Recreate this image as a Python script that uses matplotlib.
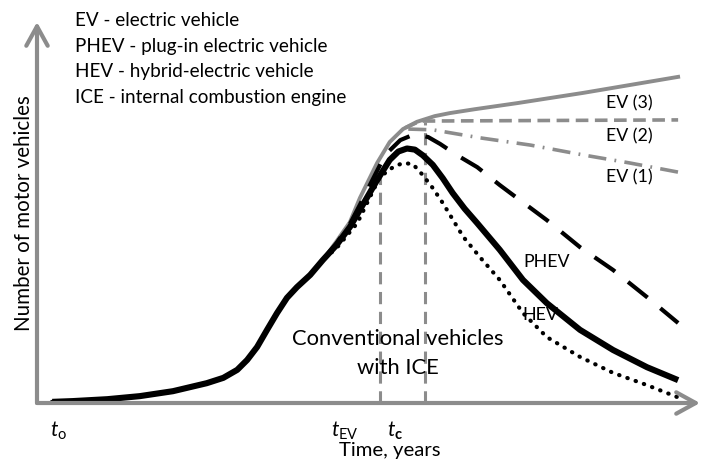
import matplotlib
matplotlib.use("Agg")
import matplotlib.pyplot as plt

plt.rcParams['font.family'] = ['Lato', 'DejaVu Sans']
plt.rcParams['mathtext.fontset'] = 'custom'
plt.rcParams['mathtext.rm'] = 'Lato'
plt.rcParams['mathtext.it'] = 'Lato:italic'
plt.rcParams['mathtext.bf'] = 'Lato:bold'

GRAY = '#8c8c8c'

# time axis 0..10, vehicles axis 0..10 (arbitrary units)
rise_t = [0.23, 0.54, 1.06, 1.55, 2.05, 2.56, 2.81, 3.02, 3.17, 3.32, 3.47,
          3.62, 3.77, 3.92, 4.12, 4.31]
rise_v = [0.03, 0.05, 0.10, 0.18, 0.31, 0.52, 0.66, 0.87, 1.13, 1.47, 1.92,
          2.36, 2.76, 3.04, 3.36, 3.75]

# conventional vehicles with ICE (thick black)
ice_t = [4.52, 4.72, 4.87, 5.13, 5.32, 5.45, 5.58, 5.7, 5.82, 5.97, 6.12,
         6.27, 6.45, 6.64, 6.98, 7.33, 7.69, 8.19, 8.69, 9.2, 9.67]
ice_v = [4.15, 4.62, 5.07, 5.85, 6.38, 6.6, 6.68, 6.65, 6.5, 6.25, 5.9,
         5.51, 5.1, 4.72, 4.02, 3.23, 2.62, 1.92, 1.39, 0.94, 0.6]

# HEV (dotted)
hev_t = [4.52, 4.83, 5.17, 5.37, 5.52, 5.67, 5.82, 5.97, 6.12, 6.43, 6.68,
         6.98, 7.33, 7.69, 8.19, 8.69, 9.2, 9.65]
hev_v = [4.07, 4.72, 5.93, 6.19, 6.3, 6.27, 5.98, 5.64, 5.25, 4.36, 3.83,
         3.23, 2.36, 1.73, 1.21, 0.79, 0.47, 0.16]

# PHEV (black dashed)
phev_t = [4.52, 4.72, 4.87, 5.25, 5.48, 5.7, 5.9, 6.08, 6.33, 6.64, 6.98,
          7.18, 7.69, 8.19, 8.69, 9.2, 9.67]
phev_v = [4.2, 4.7, 5.2, 6.51, 6.9, 7.06, 6.98, 6.8, 6.51, 6.19, 5.72,
          5.46, 4.8, 4.09, 3.49, 2.78, 2.1]

# total motor vehicles (gray solid)
total_t = [4.52, 4.72, 4.87, 5.13, 5.32, 5.52, 5.73, 6.0, 6.23, 6.6, 7.24,
           8.24, 9.67]
total_v = [4.25, 4.75, 5.38, 6.3, 6.85, 7.19, 7.38, 7.53, 7.61, 7.71, 7.87,
           8.14, 8.56]

# EV scenarios
ev3_t = [5.55, 5.78, 9.67]
ev3_v = [7.22, 7.4, 7.43]
ev1_t = [5.6, 5.97, 6.68, 7.44, 8.24, 8.94, 9.67]
ev1_v = [7.19, 7.17, 6.96, 6.77, 6.51, 6.3, 6.06]

# marker times
t_marks = [5.17, 5.85]
t_tops = [6.25, 7.38]

legend_lines = ['EV - electric vehicle', 'PHEV - plug-in electric vehicle',
                'HEV - hybrid-electric vehicle', 'ICE - internal combustion engine']

fig = plt.figure(figsize=(7.01, 4.62), dpi=100)
ax = fig.add_axes([37 / 701, 59 / 462, 663 / 701, 381 / 462])
ax.set_xlim(0, 10)
ax.set_ylim(0, 10)
ax.axis('off')

# axes arrows
arr = dict(arrowstyle='->,head_length=1.0,head_width=0.55', lw=3, color=GRAY,
           mutation_scale=14, shrinkA=0, shrinkB=0)
ax.annotate('', xy=(0, 1), xytext=(0, 0), xycoords='axes fraction', arrowprops=arr)
ax.annotate('', xy=(1, 0), xytext=(0, 0), xycoords='axes fraction', arrowprops=arr)

ax.vlines(t_marks, 0, t_tops, colors=GRAY, lw=2.2, linestyles=(0, (4, 2.5)))

ax.plot(rise_t + total_t, rise_v + total_v, color=GRAY, lw=2.8,
        solid_joinstyle='round')
ax.plot(ev3_t, ev3_v, color=GRAY, lw=2.6, dashes=(3.5, 1.8))
ax.plot(ev1_t, ev1_v, color=GRAY, lw=2.6, dashes=(5, 2.3, 0.5, 2.3))
ax.plot(rise_t + phev_t, rise_v + phev_v, color='black', lw=3, dashes=(6, 4))
ax.plot(rise_t + hev_t, rise_v + hev_v, color='black', lw=3,
        dashes=(0.1, 2.0), dash_capstyle='round')
ax.plot(rise_t + ice_t, rise_v + ice_v, color='black', lw=4.4,
        solid_capstyle='butt', solid_joinstyle='round')

for i, s in enumerate(legend_lines):
    ax.text(0.57, 10.03 - i * 0.67, s, fontsize=13.6, ha='left', va='center',
            clip_on=False)

ax.text(8.93, 7.87, 'EV (3)', fontsize=12.8, ha='center', va='center')
ax.text(8.93, 7.01, 'EV (2)', fontsize=12.8, ha='center', va='center')
ax.text(8.93, 5.91, 'EV (1)', fontsize=12.8, ha='center', va='center')
ax.text(7.68, 3.7, 'PHEV', fontsize=12.8, ha='center', va='center')
ax.text(7.59, 2.31, 'HEV', fontsize=12.8, ha='center', va='center')
ax.text(5.44, 1.68, 'Conventional vehicles', fontsize=15.8, ha='center', va='center')
ax.text(5.44, 0.92, 'with ICE', fontsize=15.8, ha='center', va='center')

ax.text(0.32, -0.74, r'$t_{\mathrm{o}}$', fontsize=15, ha='center', va='center', clip_on=False)
ax.text(4.65, -0.74, r'$t_{\mathrm{EV}}$', fontsize=15, ha='center', va='center', clip_on=False)
ax.text(5.4, -0.74, r'$t_{\mathbf{c}}$', fontsize=15, ha='center', va='center', clip_on=False)
ax.text(5.32, -1.25, 'Time, years', fontsize=14.6, ha='center', va='center', clip_on=False)
ax.text(-0.2, 4.99, 'Number of motor vehicles', fontsize=14.8, ha='center', va='center',
        rotation=90, clip_on=False)

fig.savefig('out.png', dpi=100)
